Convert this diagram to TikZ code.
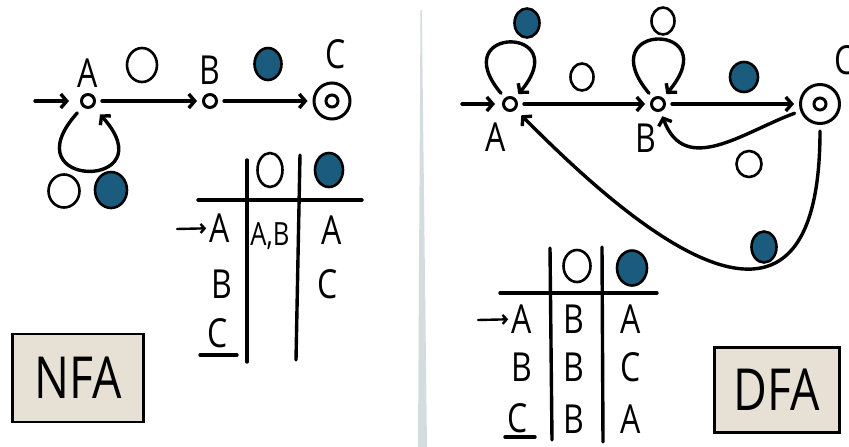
\documentclass[tikz,border=0pt]{standalone}
\usepackage{fontspec}
\setmainfont[FakeStretch=0.8]{Open Sans}
\usepackage{xcolor}
\usepackage{tikz}
\usetikzlibrary{arrows.meta}
\usetikzlibrary{shapes.geometric, positioning}

\definecolor{dotblue}{HTML}{1B5B7D}
\definecolor{cardfill}{HTML}{E6E1D4}
\definecolor{foldgrey}{HTML}{D5DCE0}

\newcommand{\hand}[1]{\fontsize{#1}{#1}\selectfont}

\begin{document}
\begin{tikzpicture}[x=1pt,y=1pt,-,auto,node distance=122pt,
                    line width=3.4pt,line cap=round,
                    >={Straight Barb[length=6pt,width=14pt]},
                    state node/.style={circle,draw,line width=3pt,minimum size=13pt,inner sep=0pt},
                    accept node/.style={state node,minimum size=36pt,
                      path picture={\draw[line width=3pt] (path picture bounding box.center) circle (6pt);}},
                    sym zero/.style={ellipse,draw,line width=2.6pt,inner sep=0pt,minimum width=26pt,minimum height=31pt},
                    sym one/.style={sym zero,fill=dotblue},
                    letter/.style={font=\hand{40},inner sep=0pt},
                    trans/.style={->,shorten <=6pt,shorten >=5pt},
                    card/.style={draw,fill=cardfill,line width=2.2pt,font=\hand{58},inner sep=0pt}]

  % sheet and the fold between the two halves
  \useasboundingbox (0,0) rectangle (849,-447);
  \fill[white] (0,0) rectangle (849,-447);
  \fill[foldgrey] (420.5,-10) -- (421.8,-10) -- (427,-447) -- (418,-447) -- cycle;

  % ---------------- NFA ----------------
  \coordinate (nin) at (35,-101);
  \node[state node] (nA) at (88,-101) {};
  \node[state node] (nB) [right of=nA] {};
  \node[accept node] (nC) [right of=nB] {};

  \node[letter] (nAl) [node distance=28pt,above of=nA] {A};
  \node[letter] (nBl) [node distance=31pt,above of=nB] {B};
  \node[letter] (nCl) at (336,-54) {C};

  \node[sym zero,minimum width=30pt,minimum height=34pt] (n0AB) at (142,-65) {};
  \node[sym one,minimum width=27pt,minimum height=32pt] (n1BC) at (268,-64) {};
  \node[sym zero,minimum width=31pt,minimum height=33pt] (n0AA) at (64,-191) {};
  \node[sym one,minimum width=32pt,minimum height=36pt] (n1AA) at (111,-190) {};

  \path[trans]
    (nin) edge[shorten <=0pt,shorten >=11pt] (nA)
    (nA) edge (nB)
         edge[out=228,in=312,distance=112pt,shorten <=8pt,shorten >=10pt] (nA)
    (nB) edge (nC);

  % transition table
  \node[sym zero,minimum width=25pt,minimum height=34pt] (nh0) at (270,-170) {};
  \node[sym one,minimum width=28pt,minimum height=34pt] (nh1) at (329,-170) {};
  \draw (198,-200) -- (362,-200);
  \draw (247,-160) -- (247,-362);
  \draw (300,-155) -- (296,-360);

  \node[letter] (nr1) at (220,-228) {A};
  \node[letter] (nr2) at (222,-284) {B};
  \node[letter] (nr3) at (218,-333) {C};
  \node[letter,font=\hand{32},anchor=base] (nr1a) at (270,-245) {A,B};
  \node[letter] (nr1b) at (332,-230) {A};
  \node[letter] (nr2b) at (328,-284) {C};

  \coordinate (nrin) at (177,-229);
  \draw[->,line width=2.4pt,>={Straight Barb[length=4pt,width=9pt]},shorten >=2pt] (nrin) -- (nr1);
  \draw (200,-355) -- (237,-355);

  \node[card,minimum width=131pt,minimum height=88pt] (nfa) at (78,-378) {NFA};

  % ---------------- DFA ----------------
  \coordinate (din) at (462,-104);
  \node[state node] (dA) at (510,-104) {};
  \node[state node] (dB) [node distance=148pt,right of=dA] {};
  \node[accept node,minimum size=39pt] (dC) [node distance=162pt,right of=dB] {};

  \node[letter] (dAl) at (496,-137) {A};
  \node[letter] (dBl) at (646,-138) {B};
  \node[letter] (dCl) at (845,-60) {C};

  \node[sym one,minimum width=25pt,minimum height=29pt] (d1AA) at (527,-23) {};
  \node[sym zero,minimum width=23pt,minimum height=27pt] (d0AB) at (582,-77) {};
  \node[sym zero,minimum width=23pt,minimum height=27pt] (d0BB) at (663,-21) {};
  \node[sym one,minimum width=28pt,minimum height=30pt] (d1BC) at (744,-77) {};
  \node[sym zero,minimum width=25pt,minimum height=26pt] (d0CB) at (749,-164) {};
  \node[sym one,minimum width=25pt,minimum height=31pt] (d1CA) at (764,-247) {};

  \path[trans]
    (din) edge[shorten <=0pt,shorten >=7pt] (dA)
    (dA) edge (dB)
         edge[out=130,in=50,distance=95pt] (dA)
    (dB) edge (dC)
         edge[out=130,in=50,distance=100pt] (dB)
    (dC) edge[out=200,in=-70,out distance=60pt,in distance=70pt] (dB)
         edge[out=270,in=-45,out distance=285pt,in distance=117pt,shorten >=8pt] (dA);

  % transition table
  \node[sym zero,minimum width=27pt,minimum height=32pt] (dh0) at (577,-266) {};
  \node[sym one,minimum width=30pt,minimum height=35pt] (dh1) at (632,-268) {};
  \draw (500,-293) -- (657,-293);
  \draw (550,-248) -- (552,-440);
  \draw (602,-247) -- (603,-442);

  \node[letter] (dr1) at (522,-319) {A};
  \node[letter] (dr2) at (522,-367) {B};
  \node[letter] (dr3) at (518,-418) {C};
  \node[letter] (dr1a) at (574,-319) {B};
  \node[letter] (dr2a) at (574,-367) {B};
  \node[letter] (dr3a) at (574,-419) {B};
  \node[letter] (dr1b) at (631,-319) {A};
  \node[letter] (dr2b) at (631,-367) {C};
  \node[letter] (dr3b) at (631,-419) {A};

  \coordinate (drin) at (478,-320);
  \draw[->,line width=2.4pt,>={Straight Barb[length=4pt,width=9pt]},shorten >=2pt] (drin) -- (dr1);
  \draw (505,-437) -- (535,-437);

  \node[card,minimum width=125pt,minimum height=85pt] (dfa) at (777,-390) {DFA};

\end{tikzpicture}
\end{document}
